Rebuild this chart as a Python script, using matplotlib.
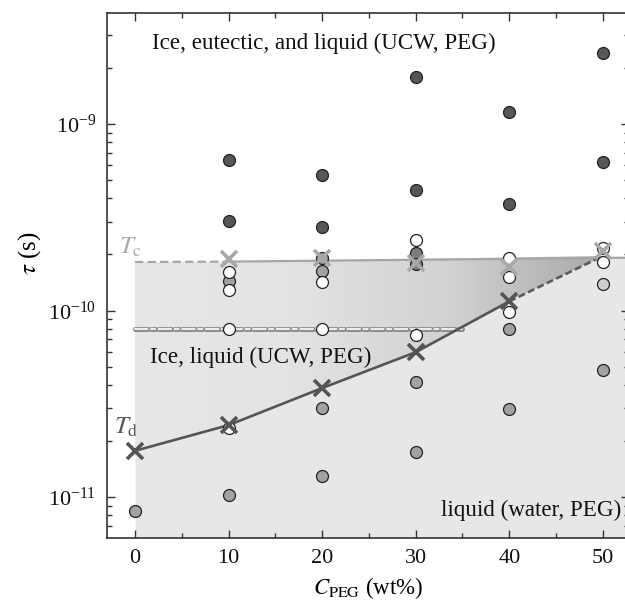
import numpy as np
import matplotlib
matplotlib.use("Agg")
import matplotlib.pyplot as plt
from matplotlib.colors import LinearSegmentedColormap
from matplotlib.patches import Polygon

plt.rcParams["font.family"] = ["Liberation Serif", "DejaVu Serif"]
plt.rcParams["mathtext.fontset"] = "stix"
plt.rcParams["lines.scale_dashes"] = False

# measured points (x = C_PEG wt%, y = tau in s)
dark_x = [10, 10, 20, 20, 30, 30, 40, 40, 50, 50]
dark_y = [6.4e-10, 3.02e-10, 5.33e-10, 2.81e-10, 1.79e-9, 4.42e-10,
          1.16e-9, 3.72e-10, 2.4e-9, 6.25e-10]

gray_x = [0, 10, 10, 20, 20, 20, 20, 30, 30, 40, 40, 50]
gray_y = [8.4e-12, 1.44e-10, 1.03e-11, 1.91e-10, 1.63e-10, 3.0e-11, 1.30e-11,
          4.14e-11, 1.74e-11, 7.96e-11, 2.96e-11, 4.8e-11]

mid_x = [30, 30]
mid_y = [2.03e-10, 1.78e-10]

white_x = [10, 10, 10, 10, 20, 20, 30, 30, 40, 40, 40, 50, 50]
white_y = [1.61e-10, 1.29e-10, 7.96e-11, 2.34e-11, 1.42e-10, 7.96e-11,
           2.39e-10, 7.4e-11, 1.91e-10, 1.51e-10, 9.8e-11, 2.16e-10, 1.82e-10]

light_x = [50]
light_y = [1.39e-10]

# characteristic temperatures
tc_x = [10, 20, 30, 40, 50]
tc_y = [1.89e-10, 1.91e-10, 1.80e-10, 1.71e-10, 2.08e-10]
td_x = [0, 10, 20, 30, 40]
td_y = [1.77e-11, 2.43e-11, 3.84e-11, 5.98e-11, 1.12e-10]

# boundary lines
tc_line_x = [0, 10, 52.8]
tc_line_y = [1.82e-10, 1.83e-10, 1.92e-10]
td_ext_x = [40, 50]
td_ext_y = [1.12e-10, 1.96e-10]
ucw_x = [0, 35]
ucw_y = [7.96e-11, 7.96e-11]

XMIN, XMAX = -3, 52.8
YMIN, YMAX = 6.03e-12, 3.94e-9

fig = plt.figure(figsize=(6.25, 6.02), dpi=100)
ax = fig.add_axes([0.1712, 0.1063, 0.8352, 0.8721])
ax.set_yscale("log")
ax.set_xlim(XMIN, XMAX)
ax.set_ylim(YMIN, YMAX)

# light gray region below Tc
ax.fill_between(tc_line_x, [YMIN] * 3, tc_line_y, color="#e7e7e7", lw=0, zorder=0)

# gradient region between Tc and Td
poly_x = [0, 10, 50] + td_x[::-1]
poly_y = [tc_line_y[0], tc_line_y[1], td_ext_y[1]] + td_y[::-1]
poly = Polygon(np.column_stack([poly_x, poly_y]), closed=True,
               transform=ax.transData, facecolor="none", edgecolor="none")
ax.add_patch(poly)
cmap = LinearSegmentedColormap.from_list("g", ["#e7e7e7", "#e3e3e3", "#d2d2d2", "#a9a9a9"])
grad = np.linspace(0, 1, 256).reshape(1, -1)
im = ax.imshow(grad, cmap=cmap, aspect="auto", extent=[0, 50, YMIN, YMAX],
               origin="lower", zorder=1, interpolation="bilinear")
im.set_clip_path(poly)
ax.set_xlim(XMIN, XMAX)
ax.set_ylim(YMIN, YMAX)

# Tc line: dashed at low conc., solid after
ax.plot(tc_line_x[:2], tc_line_y[:2], color="#a6a6a6", lw=1.6, dashes=(6, 3), zorder=2)
ax.plot(tc_line_x[1:], tc_line_y[1:], color="#a6a6a6", lw=1.6, zorder=2)

# UCW double dashed line
ax.plot(ucw_x, ucw_y, color="#8a8a8a", lw=3.6, dashes=(9, 2.5, 3, 2.5),
        dash_capstyle="round", zorder=2)
ax.plot(ucw_x, ucw_y, color="#ececec", lw=1.6, dashes=(9, 2.5, 3, 2.5),
        dash_capstyle="round", zorder=2)

# Td line
ax.plot(td_x, td_y, color="#555555", lw=1.9, zorder=2)
ax.plot(td_ext_x, td_ext_y, color="#5a5a5a", lw=1.9, dashes=(5, 2.5), zorder=2)

mk = dict(ls="none", marker="o", ms=8.6, mec="#222222", mew=0.9, zorder=3)
ax.plot(dark_x, dark_y, mfc="#575757", **mk)
ax.plot(gray_x, gray_y, mfc="#a2a2a2", **mk)
ax.plot(mid_x, mid_y, mfc="#7d7d7d", **mk)
ax.plot(light_x, light_y, mfc="#cfcfcf", **mk)
ax.plot(white_x, white_y, mfc="white", **mk)

ax.plot(tc_x, tc_y, ls="none", marker="x", ms=12, mew=2.6, color="#a8a8a8", zorder=4)
ax.plot(td_x, td_y, ls="none", marker="x", ms=12, mew=2.6, color="#555555", zorder=4)

ax.text(1.8, 2.72e-9, "Ice, eutectic, and liquid (UCW, PEG)", fontsize=16.6,
        ha="left", va="center", color="#111111", zorder=5)
ax.text(1.6, 5.6e-11, "Ice, liquid (UCW, PEG)", fontsize=16.6,
        ha="left", va="center", color="#111111", zorder=5)
ax.text(52.0, 8.5e-12, "liquid (water, PEG)", fontsize=16.6,
        ha="right", va="center", color="#111111", zorder=5)
ax.text(-1.7, 2.19e-10, r"$T_{\rm c}$", fontsize=18, ha="left", va="center",
        color="#a8a8a8", zorder=5)
ax.text(-2.2, 2.37e-11, r"$T_{\rm d}$", fontsize=18, ha="left", va="center",
        color="#555555", zorder=5)

ax.set_xticks([0, 10, 20, 30, 40, 50])
ax.set_xticks([5, 15, 25, 35, 45], minor=True)
ax.tick_params(which="both", direction="in", top=True, right=True,
               color="#333333", labelsize=16, labelcolor="#111111")
ax.tick_params(which="major", length=6, width=1.0, pad=8)
ax.tick_params(which="minor", length=3.5, width=1.0)
for s in ax.spines.values():
    s.set_color("#333333")
    s.set_linewidth(1.2)

ax.set_xlabel(r"$C_{\rm PEG}$ (wt%)", fontsize=16.5, labelpad=5)
fig.text(0.048, 1 - 253 / 602, r"$\tau$ (s)", rotation=90, fontsize=18,
         ha="center", va="center")

fig.savefig("out.png", dpi=100)
